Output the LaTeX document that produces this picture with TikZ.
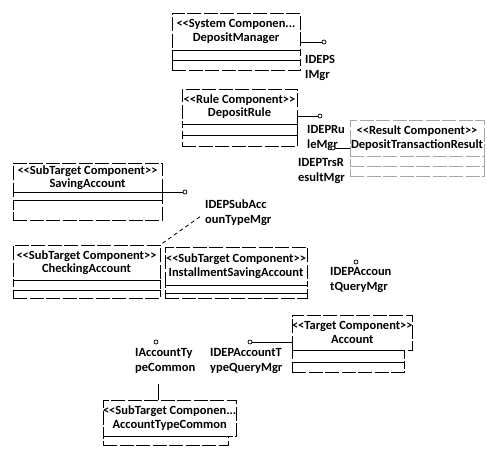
\documentclass[tikz,border=0pt]{standalone}
\usepackage{fontspec}
\newfontfamily\cf{Carlito}
\begin{document}
\begin{tikzpicture}[x=1pt,y=-1pt,
  scan/.style={line width=0.8pt, dash pattern=on 14pt off 2.5pt},
  head/.style={draw, scan, rectangle, anchor=north west, inner sep=0pt, outer sep=0pt, align=center, font=\cf\bfseries\fontsize{12.5}{13.5}\selectfont},
  cmp/.style={draw, scan, rectangle, anchor=north west, inner sep=0pt, outer sep=0pt},
  faint/.style={draw=black!35},
  ilabel/.style={anchor=north west, inner sep=0pt, align=left, font=\cf\bfseries\fontsize{12.5}{15}\selectfont},
  wire/.style={line width=0.8pt},
  depline/.style={line width=0.8pt, dash pattern=on 4pt off 3pt},
  ball/.style={circle, draw, line width=0.7pt, minimum size=4pt, inner sep=0pt, fill=white}
]
\fill[white] (0,0) rectangle (487,455);
\useasboundingbox (0,0) rectangle (487,455);

% DepositManager
\node[head, minimum width=128pt, minimum height=37pt] (dm) at (172,13) {<<System Componen...\\DepositManager};
\node[cmp, minimum width=128pt, minimum height=10pt] (dma) at (dm.south west) {};
\node[cmp, minimum width=128pt, minimum height=10pt] (dmo) at (dma.south west) {};
\node[ball] (b1) at (324,42) {};
\draw[wire] (dm.east |- b1) -- (b1);
\node[ilabel] (l1) at (305,55) {IDEPS\\IMgr};

% DepositRule
\node[head, minimum width=115pt, minimum height=35pt] (dr) at (182,89) {<<Rule Component>>\\DepositRule};
\node[cmp, minimum width=115pt, minimum height=11pt] (dra) at (dr.south west) {};
\node[cmp, minimum width=115pt, minimum height=11pt] (dro) at (dra.south west) {};
\node[ball] (b2) at (320,116) {};
\draw[wire] (dr.east |- b2) -- (b2);
\node[ilabel] (l2) at (307,125) {IDEPRu\\leMgr};

% DepositTransactionResult
\node[head, faint, minimum width=134pt, minimum height=36pt] (dtr) at (350,120) {<<Result Component>>\\DepositTransactionResult};
\node[cmp, faint, minimum width=134pt, minimum height=10pt] (dtra) at (dtr.south west) {};
\node[cmp, faint, minimum width=134pt, minimum height=10pt] (dtro) at (dtra.south west) {};
\node[ball] (b3) at (333,148) {};
\draw[wire] (b3) -- (dtr.west |- b3);
\node[ilabel] (l3) at (298,158) {IDEPTrsR\\esultMgr};

% SavingAccount
\node[head, minimum width=149pt, minimum height=29pt] (sa) at (13,163) {<<SubTarget Component>>\\SavingAccount};
\node[cmp, minimum width=149pt, minimum height=8pt] (saa) at (sa.south west) {};
\node[cmp, minimum width=149pt, minimum height=20pt] (sao) at (saa.south west) {};
\node[ball] (b4) at (185,192) {};
\draw[wire] (sa.east |- b4) -- (b4);
\node[ilabel] (l4) at (205,200) {IDEPSubAcc\\ounTypeMgr};

% CheckingAccount
\node[head, minimum width=147pt, minimum height=35pt] (ca) at (13,245) {<<SubTarget Component>>\\CheckingAccount};
\node[cmp, minimum width=147pt, minimum height=10pt] (caa) at (ca.south west) {};
\node[cmp, minimum width=147pt, minimum height=8pt] (cao) at (caa.south west) {};
\draw[depline, shorten <=3pt, shorten >=4pt] (ca.north east) -- (l4.west);

% InstallmentSavingAccount
\node[head, minimum width=142pt, minimum height=38pt] (isa) at (165,247) {<<SubTarget Component>>\\InstallmentSavingAccount};
\node[cmp, minimum width=142pt, minimum height=8pt] (isaa) at (isa.south west) {};
\node[cmp, minimum width=142pt, minimum height=5pt] (isao) at (isaa.south west) {};

% IDEPAccountQueryMgr
\node[ball] (b5) at (356,262) {};
\node[ilabel] (l5) at (330,267) {IDEPAccoun\\tQueryMgr};

% Account
\node[head, minimum width=112pt, minimum height=35pt] (acc) at (292,315) {<<Target Component>>\\Account};
\node[cmp, minimum width=112pt, minimum height=12pt] (acca) at (acc.south west) {};
\node[cmp, minimum width=112pt, minimum height=10pt] (acco) at (acca.south west) {};
\node[ball] (b6) at (250,342) {};
\draw[wire] (b6) -- (acc.west |- b6);
\node[ilabel] (l6) at (210,348) {IDEPAccountT\\ypeQueryMgr};

% IAccountTypeCommon
\node[ball] (b7) at (156,342) {};
\node[ilabel] (l7) at (135,348) {IAccountTy\\peCommon};

% AccountTypeCommon
\node[head, minimum width=125pt, minimum height=36pt] (atc) at (103,400) {<<SubTarget Componen...\\AccountTypeCommon};
\node[cmp, minimum width=125pt, minimum height=9pt] (atca) at (atc.south west) {};
\coordinate (t1) at (158,384);
\draw[wire] (t1) -- (t1 |- atc.north);
\end{tikzpicture}
\end{document}
